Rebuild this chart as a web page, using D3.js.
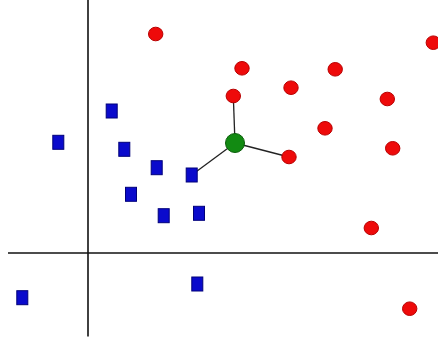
<!DOCTYPE html>
<html><head><meta charset="utf-8">
<script src="https://cdn.jsdelivr.net/npm/d3@7"></script>
<style>html,body{margin:0;padding:0;background:#fff;}svg{display:block;}</style>
</head><body>
<script>
// Class A (red circles)
const redX = [6.77, 15.4, 14.53, 20.3, 24.72, 29.93, 34.53, 23.7, 20.1, 30.47, 28.33, 32.17];
const redY = [21.9, 18.47, 15.7, 16.53, 18.37, 15.4, 21.03, 12.47, 9.6, 10.47, 2.5, -5.57];
// Class B (blue squares)
const blueX = [-2.97, 2.37, 3.63, 6.87, 10.37, 4.3, 7.57, 11.1, -6.57, 10.93];
const blueY = [11.07, 14.2, 10.37, 8.53, 7.8, 5.87, 3.73, 3.97, -4.47, -3.1];
// Query point (green)
const queryX = [14.7];
const queryY = [11.0];
// Nearest neighbours: [class, index]
const neighbours = [["red", 2], ["red", 8], ["blue", 4]];

const W = 438, H = 344;
const x = d3.scaleLinear().domain([-8.8, 35]).range([0, 438]);
const y = d3.scaleLinear().domain([-9.1, 25.3]).range([344, 0]);

const svg = d3.select("body").append("svg").attr("width", W).attr("height", H);

// axes
svg.append("line").attr("x1", x(-8)).attr("x2", x(35)).attr("y1", y(0)).attr("y2", y(0))
  .attr("stroke", "#111").attr("stroke-width", 1.6);
svg.append("line").attr("x1", x(0)).attr("x2", x(0)).attr("y1", y(25.3)).attr("y2", y(-8.35))
  .attr("stroke", "#111").attr("stroke-width", 1.6);

const red = redX.map((v, i) => ({x: v, y: redY[i]}));
const blue = blueX.map((v, i) => ({x: v, y: blueY[i]}));
const q = {x: queryX[0], y: queryY[0]};

// neighbour links
svg.selectAll("line.nn").data(neighbours).enter().append("line")
  .attr("x1", x(q.x)).attr("y1", y(q.y))
  .attr("x2", d => x((d[0] === "red" ? red : blue)[d[1]].x))
  .attr("y2", d => y((d[0] === "red" ? red : blue)[d[1]].y))
  .attr("stroke", "#222").attr("stroke-width", 1.3);

svg.selectAll("ellipse.red").data(red).enter().append("ellipse")
  .attr("cx", d => x(d.x)).attr("cy", d => y(d.y))
  .attr("rx", 7.2).attr("ry", 6.8)
  .attr("fill", "#ee0a0a").attr("stroke", "#b80000").attr("stroke-width", 1);

svg.selectAll("rect.blue").data(blue).enter().append("rect")
  .attr("x", d => x(d.x) - 5.5).attr("y", d => y(d.y) - 7)
  .attr("width", 11).attr("height", 14)
  .attr("fill", "#0a0acc").attr("stroke", "#00007a").attr("stroke-width", 1);

svg.append("circle").attr("cx", x(q.x)).attr("cy", y(q.y)).attr("r", 9.5)
  .attr("fill", "#128a12").attr("stroke", "#0a5e0a").attr("stroke-width", 1);
</script>
</body></html>
